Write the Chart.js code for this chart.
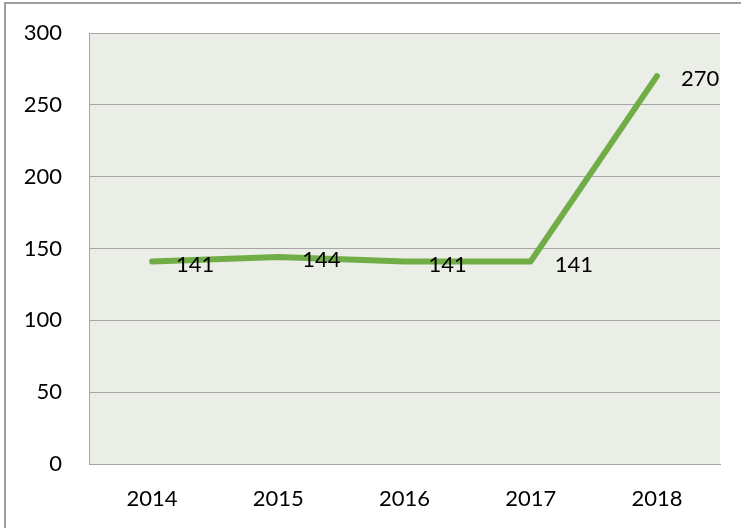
<!DOCTYPE html>
<html>
<head>
<meta charset="utf-8">
<script src="https://cdn.jsdelivr.net/npm/chart.js@4/dist/chart.umd.min.js"></script>
<style>
  html, body { margin: 0; padding: 0; background: #fff; }
  #wrap { width: 741px; height: 528px; position: relative; }
</style>
</head>
<body>
<div id="wrap"><canvas id="chart" width="741" height="528"></canvas></div>
<script>
// data
const years = ['2014', '2015', '2016', '2017', '2018'];
const values = [141, 144, 141, 141, 270];
const yTicks = [0, 50, 100, 150, 200, 250, 300];

const FONT = 'Lato, "Open Sans", sans-serif';
const FONT_SIZE = 22;

// plot background + outer frame
const bgPlugin = {
  id: 'bg',
  beforeDraw(chart) {
    const { ctx, chartArea: a } = chart;
    ctx.save();
    ctx.fillStyle = '#EAEEE7';
    ctx.fillRect(a.left, a.top, a.right - a.left, a.bottom - a.top);
    // frame of the picture (top and left edges)
    ctx.strokeStyle = '#A0A0A0';
    ctx.lineWidth = 2;
    ctx.beginPath();
    ctx.moveTo(741, 3);
    ctx.lineTo(5, 3);
    ctx.lineTo(5, 528);
    ctx.stroke();
    ctx.restore();
  }
};

// value labels to the right of each point
const labelPlugin = {
  id: 'valueLabels',
  afterDatasetsDraw(chart) {
    const { ctx } = chart;
    const meta = chart.getDatasetMeta(0);
    ctx.save();
    ctx.font = FONT_SIZE + 'px ' + FONT;
    ctx.fillStyle = '#000';
    ctx.textAlign = 'left';
    ctx.textBaseline = 'middle';
    meta.data.forEach((pt, i) => {
      ctx.fillText(String(values[i]), pt.x + 24, pt.y + 3);
    });
    ctx.restore();
  }
};

new Chart(document.getElementById('chart'), {
  type: 'line',
  data: {
    labels: years,
    datasets: [{
      data: values,
      borderColor: '#70AD47',
      borderWidth: 6,
      borderCapStyle: 'round',
      borderJoinStyle: 'round',
      pointRadius: 0,
      tension: 0,
      fill: false
    }]
  },
  options: {
    responsive: false,
    animation: false,
    layout: { padding: { top: 33, right: 21, left: 0, bottom: 0 } },
    plugins: {
      legend: { display: false },
      tooltip: { enabled: false }
    },
    scales: {
      x: {
        offset: true,
        grid: { display: false, drawTicks: false },
        border: { display: true, color: '#A6A6A6', width: 1 },
        ticks: { font: { family: FONT, size: FONT_SIZE }, color: '#000', padding: 22 },
        afterFit(scale) { scale.height = 64; }
      },
      y: {
        min: 0,
        max: 300,
        afterBuildTicks(scale) { scale.ticks = yTicks.map(v => ({ value: v })); },
        grid: { color: '#A6A6A6', lineWidth: 1, drawTicks: false },
        border: { display: true, color: '#A6A6A6', width: 1 },
        ticks: { font: { family: FONT, size: FONT_SIZE }, color: '#000', padding: 27 },
        afterFit(scale) {
          scale.width = 89;
          scale.paddingTop = 0;
          scale.paddingBottom = 0;
        }
      }
    }
  },
  plugins: [bgPlugin, labelPlugin]
});
</script>
</body>
</html>
